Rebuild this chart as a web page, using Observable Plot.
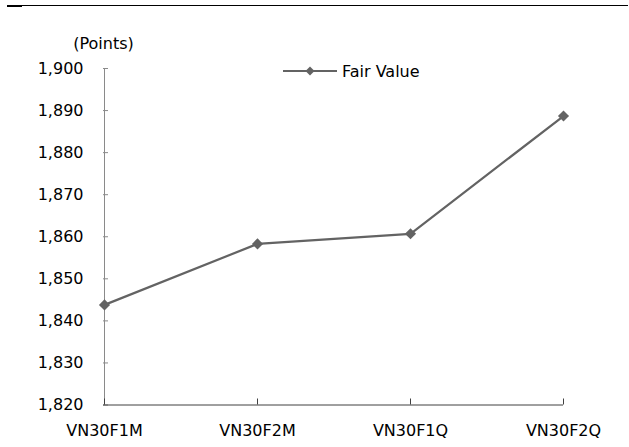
<!DOCTYPE html>
<html>
<head>
<meta charset="utf-8">
<script src="https://cdn.jsdelivr.net/npm/d3@7"></script>
<script src="https://cdn.jsdelivr.net/npm/@observablehq/plot@0.6"></script>
<style>
  html, body { margin: 0; padding: 0; background: #fff; }
  #wrap { position: relative; width: 629px; height: 447px; overflow: hidden; font-family: "DejaVu Sans", sans-serif; }
  #rule { position: absolute; left: 7px; right: 1px; top: 5px; border-top: 1px solid #000; }
  #rulethick { position: absolute; left: 7px; width: 15px; top: 5px; height: 2px; background: #000; }
  #legend { position: absolute; left: 283px; top: 60px; height: 22px; display: flex; align-items: center; font-size: 16px; color: #000; }
  #legend span { margin-left: 5px; }
  #chart { position: absolute; left: 0; top: 0; }
</style>
</head>
<body>
<div id="wrap">
  <div id="chart"></div>
  <div id="rule"></div>
  <div id="rulethick"></div>
  <div id="legend">
    <svg width="54" height="12"><line x1="0" y1="6" x2="54" y2="6" stroke="#636363" stroke-width="2"/><path d="M27,1.5 L31.5,6 L27,10.5 L22.5,6 Z" fill="#636363"/></svg>
    <span>Fair Value</span>
  </div>
</div>
<script>
const contracts = ["VN30F1M", "VN30F2M", "VN30F1Q", "VN30F2Q"];
const fairValue = [1843.8, 1858.3, 1860.7, 1888.7];
const yTicks = [1820, 1830, 1840, 1850, 1860, 1870, 1880, 1890, 1900];
const seriesName = "Fair Value";
const unitLabel = "(Points)";

const data = contracts.map((c, i) => ({contract: c, value: fairValue[i], series: seriesName}));

const W = 629, H = 447;
const mL = 103, mR = 66, mT = 68, mB = 42.5;
const frameW = W - mL - mR, frameH = H - mT - mB;
const lineColor = "#636363";

const chart = Plot.plot({
  width: W,
  height: H,
  marginLeft: mL,
  marginRight: mR,
  marginTop: mT,
  marginBottom: mB,
  style: {fontFamily: "DejaVu Sans, sans-serif", fontSize: "16px", color: "#000", background: "transparent", overflow: "visible"},
  x: {type: "point", domain: contracts, padding: 0},
  y: {domain: [1820, 1900]},
  marks: [
    Plot.ruleX([contracts[0]], {stroke: "#8a8a8a", strokeWidth: 1}),
    Plot.tickY(yTicks, {y: d => d, stroke: "#8a8a8a", strokeWidth: 1, insetRight: frameW - 5}),
    Plot.ruleY([1820], {stroke: "#404040", strokeWidth: 1}),
    Plot.tickX(contracts, {x: d => d, stroke: "#404040", strokeWidth: 1, insetTop: frameH - 6}),
    Plot.axisY(yTicks, {tickSize: 0, tickPadding: 20, tickFormat: d3.format(","), fontSize: 16, label: null}),
    Plot.axisX({tickSize: 0, tickPadding: 20, fontSize: 16, label: null}),
    Plot.text([unitLabel], {frameAnchor: "top-left", text: d => d, dy: -31, textAnchor: "middle", fontSize: 16}),
    Plot.line(data, {x: "contract", y: "value", stroke: lineColor, strokeWidth: 2.2}),
    Plot.dot(data, {x: "contract", y: "value", symbol: "diamond2", r: 5, fill: lineColor, stroke: "none"})
  ]
});
document.getElementById("chart").appendChild(chart);
</script>
</body>
</html>
